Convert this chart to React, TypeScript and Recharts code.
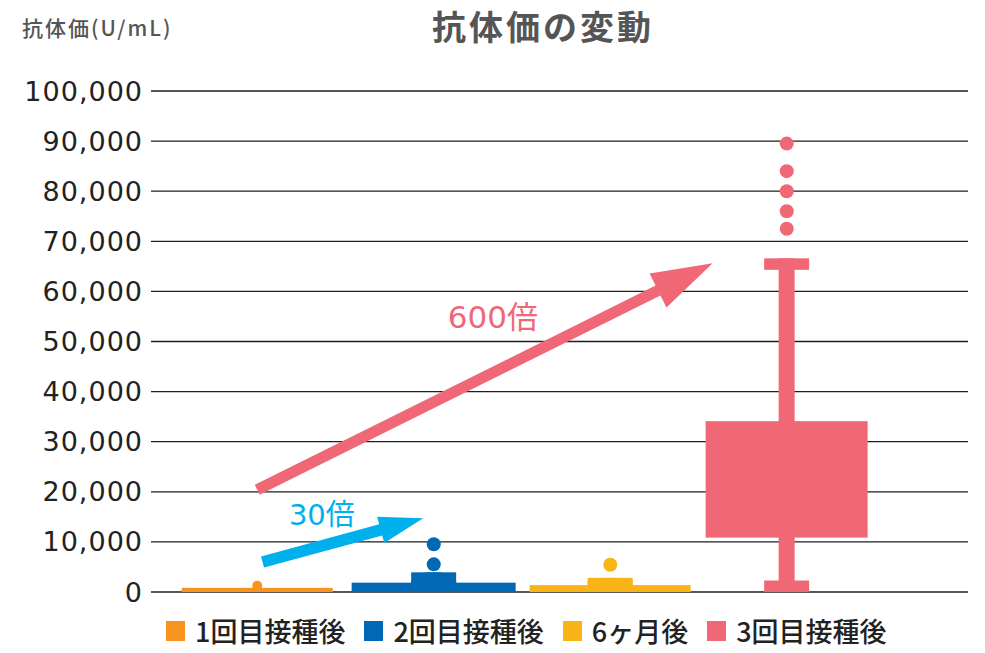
import React from 'react';
import {
  ComposedChart,
  Bar,
  Line,
  XAxis,
  YAxis,
  CartesianGrid,
  ReferenceLine,
  ReferenceDot,
  Legend,
} from 'recharts';

// ---------- data ----------
const CATEGORIES = ['1回目接種後', '2回目接種後', '6ヶ月後', '3回目接種後'];
const BOX_LOW = [0, 0, 0, 10850];
const BOX_HIGH = [830, 1860, 1380, 34100];
const WHISKER_LOW: (number | null)[] = [null, 0, 0, 0];
const WHISKER_HIGH: (number | null)[] = [null, 3930, 2830, 66600];
const OUTLIERS_DOSE1 = [1250];
const OUTLIERS_DOSE2 = [5520, 9520];
const OUTLIERS_6M = [5450];
const OUTLIERS_DOSE3 = [89500, 84000, 80000, 76000, 72500];
const Y_TICKS = [0, 10000, 20000, 30000, 40000, 50000, 60000, 70000, 80000, 90000, 100000];

// annotation arrows (x in category index units, y in U/mL)
const ARROW_600_FROM = [0, 20400];
const ARROW_600_TO = [2.58, 65600];
const ARROW_30_FROM = [0.03, 5980];
const ARROW_30_TO = [0.94, 14700];
const LABEL_600 = { text: '600倍', at: [1.335, 54900] };
const LABEL_30 = { text: '30倍', at: [0.366, 15400] };

// ---------- styles ----------
const COLORS = ['#F7931E', '#0068B5', '#FBB417', '#F06876'];
const CYAN = '#00B0EC';
const BOX_WIDTHS = [151, 164, 161, 162];
const DOT_RADII = [5, 7, 7, 7];
const WHISKER_W = 16;
const CAP_W = 45;
const CAP_H = 11.5;
const X_PADDING = { left: 18, right: 93 };

const OUTLIER_LISTS = [OUTLIERS_DOSE1, OUTLIERS_DOSE2, OUTLIERS_6M, OUTLIERS_DOSE3];
const MAX_OUT = Math.max(...OUTLIER_LISTS.map((l) => l.length));
const OUT_KEYS = Array.from({ length: MAX_OUT }, (_, i) => `o${i}`);

const data = CATEGORIES.map((name, i) => {
  const row: any = {
    name,
    pos: i,
    box: [BOX_LOW[i], BOX_HIGH[i]],
    whisker: WHISKER_LOW[i] == null ? null : [WHISKER_LOW[i], WHISKER_HIGH[i]],
  };
  OUT_KEYS.forEach((k, j) => {
    row[k] = OUTLIER_LISTS[i][j] ?? null;
  });
  return row;
});

const idxOf = (props: any) => {
  const n = props?.payload?.name;
  const i = CATEGORIES.indexOf(n);
  return i >= 0 ? i : props.index ?? 0;
};

const BoxShape = (props: any) => {
  const { x, y, width, height } = props;
  if (x == null || y == null) return <g />;
  const i = idxOf(props);
  const cx = x + width / 2;
  const w = BOX_WIDTHS[i];
  return <rect x={cx - w / 2} y={y} width={w} height={Math.max(height, 0)} fill={COLORS[i]} />;
};

const WhiskerShape = (props: any) => {
  const { x, y, width, height } = props;
  if (x == null || y == null || !height) return <g />;
  const i = idxOf(props);
  const cx = x + width / 2;
  const c = COLORS[i];
  return (
    <g>
      <rect x={cx - WHISKER_W / 2} y={y} width={WHISKER_W} height={height} fill={c} />
      <rect x={cx - CAP_W / 2} y={y} width={CAP_W} height={CAP_H} fill={c} />
      <rect x={cx - CAP_W / 2} y={y + height - CAP_H} width={CAP_W} height={CAP_H} fill={c} />
    </g>
  );
};

const makeArrow = (color: string, shaft: number, headL: number, headW: number) => (props: any) => {
  const { x1, y1, x2, y2 } = props;
  if ([x1, y1, x2, y2].some((v) => v == null || isNaN(v))) return <g />;
  const dx = x2 - x1;
  const dy = y2 - y1;
  const len = Math.sqrt(dx * dx + dy * dy);
  const ux = dx / len;
  const uy = dy / len;
  const nx = -uy;
  const ny = ux;
  const bx = x2 - ux * headL;
  const by = y2 - uy * headL;
  const s = shaft / 2;
  const pts = [
    [x1 + nx * s, y1 + ny * s],
    [bx + nx * s, by + ny * s],
    [bx + nx * headW, by + ny * headW],
    [x2, y2],
    [bx - nx * headW, by - ny * headW],
    [bx - nx * s, by - ny * s],
    [x1 - nx * s, y1 - ny * s],
  ]
    .map((p) => p.join(','))
    .join(' ');
  return <polygon points={pts} fill={color} />;
};

const makeLabel = (text: string, color: string, size: number) => (props: any) => {
  const { cx, cy } = props;
  if (cx == null || cy == null) return <g />;
  return (
    <text
      x={cx}
      y={cy}
      textAnchor="middle"
      dominantBaseline="central"
      fill={color}
      fontSize={size}
      fontFamily="'DejaVu Sans', 'Noto Sans CJK JP', sans-serif"
    >
      {text}
    </text>
  );
};

const makeDot = (key: string) => (p: any) => {
  const v = p?.payload?.[key];
  if (v == null || p.cx == null || p.cy == null) return <g key={`${key}-${p.index}`} />;
  const i = idxOf(p);
  return <circle key={`${key}-${p.index}`} cx={p.cx} cy={p.cy} r={DOT_RADII[i]} fill={COLORS[i]} />;
};

const LegendContent = () => (
  <div style={{ display: 'flex', alignItems: 'center', whiteSpace: 'nowrap' }}>
    {CATEGORIES.map((c, i) => (
      <div key={c} style={{ display: 'flex', alignItems: 'center', marginRight: 19 }}>
        <span style={{ display: 'inline-block', width: 19, height: 20, background: COLORS[i], marginRight: 10 }} />
        <span
          style={{
            fontFamily: "'Noto Sans CJK JP', sans-serif",
            fontSize: 27,
            fontWeight: 500,
            color: '#222',
            lineHeight: '34px',
          }}
        >
          {c}
        </span>
      </div>
    ))}
  </div>
);

export default function App() {
  return (
    <div style={{ position: 'absolute', left: 0, top: 0, width: 985, height: 653, background: '#fff' }}>
      <svg width={985} height={60} style={{ position: 'absolute', left: 0, top: 0 }}>
        <text
          x={22}
          y={36}
          fontSize={21}
          fontWeight={500}
          fill="#555"
          letterSpacing={2}
          fontFamily="'Noto Sans CJK JP', sans-serif"
        >
          抗体価(U/mL)
        </text>
        <text
          x={543}
          y={40}
          textAnchor="middle"
          fontSize={34}
          fontWeight="bold"
          letterSpacing={3}
          fill="#555"
          fontFamily="'Noto Sans CJK JP', sans-serif"
        >
          抗体価の変動
        </text>
      </svg>
      <div style={{ position: 'absolute', left: 0, top: 0 }}>
        <ComposedChart
          width={985}
          height={653}
          data={data}
          margin={{ top: 91, right: 17, bottom: 61, left: 0 }}
        >
          <CartesianGrid vertical={false} stroke="#1e1e1e" strokeWidth={1.3} />
          <XAxis dataKey="name" type="category" hide padding={X_PADDING} />
          <XAxis xAxisId="wh" dataKey="name" type="category" hide padding={X_PADDING} />
          <XAxis
            xAxisId="ann"
            dataKey="pos"
            type="number"
            domain={[-0.5, 3.5]}
            hide
            padding={X_PADDING}
            allowDataOverflow
          />
          <YAxis
            domain={[0, 100000]}
            ticks={Y_TICKS}
            interval={0}
            axisLine={false}
            tickLine={false}
            width={151}
            tickFormatter={(v: number) => v.toLocaleString('en-US')}
            tick={{ fontSize: 27, fill: '#222', fontFamily: "'DejaVu Sans', sans-serif", letterSpacing: 1 }}
          />
          <Bar xAxisId="wh" dataKey="whisker" shape={WhiskerShape} isAnimationActive={false} />
          <Bar dataKey="box" shape={BoxShape} isAnimationActive={false} />
          {OUT_KEYS.map((k) => (
            <Line
              key={k}
              dataKey={k}
              stroke="none"
              dot={makeDot(k)}
              activeDot={false}
              isAnimationActive={false}
              legendType="none"
            />
          ))}
          <ReferenceLine
            xAxisId="ann"
            segment={[
              { x: ARROW_600_FROM[0], y: ARROW_600_FROM[1] },
              { x: ARROW_600_TO[0], y: ARROW_600_TO[1] },
            ]}
            shape={makeArrow(COLORS[3], 11, 61, 19)}
            ifOverflow="visible"
          />
          <ReferenceLine
            xAxisId="ann"
            segment={[
              { x: ARROW_30_FROM[0], y: ARROW_30_FROM[1] },
              { x: ARROW_30_TO[0], y: ARROW_30_TO[1] },
            ]}
            shape={makeArrow(CYAN, 11.5, 44, 13.5)}
            ifOverflow="visible"
          />
          <ReferenceDot
            xAxisId="ann"
            x={LABEL_600.at[0]}
            y={LABEL_600.at[1]}
            r={0}
            shape={makeLabel(LABEL_600.text, COLORS[3], 31)}
            ifOverflow="visible"
          />
          <ReferenceDot
            xAxisId="ann"
            x={LABEL_30.at[0]}
            y={LABEL_30.at[1]}
            r={0}
            shape={makeLabel(LABEL_30.text, CYAN, 29)}
            ifOverflow="visible"
          />
          <Legend
            layout="vertical"
            align="center"
            verticalAlign="middle"
            content={LegendContent}
            wrapperStyle={{ left: 166, top: 614, width: 780, height: 34 }}
          />
        </ComposedChart>
      </div>
    </div>
  );
}
